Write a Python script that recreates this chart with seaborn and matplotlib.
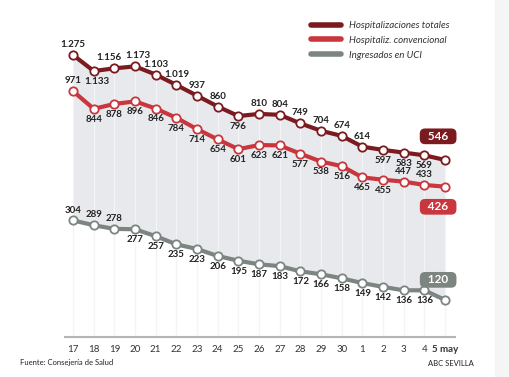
import numpy as np
import pandas as pd
import matplotlib.pyplot as plt
import seaborn as sns
from matplotlib.lines import Line2D
from matplotlib.patches import Rectangle

# --- datos (abril 17 -> 5 mayo) ---
DIAS = ['17', '18', '19', '20', '21', '22', '23', '24', '25', '26', '27', '28', '29', '30',
        '1', '2', '3', '4', '5 may']
TOTALES = [1275, 1133, 1156, 1173, 1103, 1019, 937, 860, 796, 810, 804, 749, 704, 674,
           614, 597, 583, 569, 546]
CONVENCIONAL = [971, 844, 878, 896, 846, 784, 714, 654, 601, 623, 621, 577, 538, 516,
                465, 455, 447, 433, 426]
UCI = [304, 289, 278, 277, 257, 235, 223, 206, 195, 187, 183, 172, 166, 158,
       149, 142, 136, 136, 120]
SERIES = ['Hospitalizaciones totales', 'Hospitaliz. convencional', 'Ingresados en UCI']

# posicion de la etiqueta de cada punto: a = arriba, b = abajo, - = caja final
POS_TOT = 'abaaaaaabaaaaaabbb-'
POS_CONV = 'abbbbbbbbbbbbbbbaa-'
POS_UCI = 'aaabbbbbbbbbbbbbbb-'
# pequenos desplazamientos horizontales (pt) para que no se pisen
DX_TOT = {1: 2, 2: -4, 3: 2}

COLORES = ['#7b1b1f', '#c9363d', '#7c8580']
GRIS_FONDO = '#e8e9ed'

df = pd.DataFrame({'idx': np.arange(len(DIAS)), 'dia': DIAS,
                   SERIES[0]: TOTALES, SERIES[1]: CONVENCIONAL, SERIES[2]: UCI})

sns.set_theme(style='white')
plt.rcParams['font.family'] = ['Lato', 'DejaVu Sans']

fig = plt.figure(figsize=(5.1, 3.77), dpi=100)
fig.patches.append(Rectangle((495 / 510, 0), 15 / 510, 1, transform=fig.transFigure,
                             color='#f5f5f5', zorder=0))
ax = fig.add_axes([65 / 510, 40 / 377, 390 / 510, 317 / 377])
ax.patch.set_alpha(0)

# escala no lineal como la infografia
ax.set_yscale('function', functions=(lambda v: np.power(np.clip(v, 0, None), 0.25),
                                      lambda v: np.power(v, 4)))

ax.fill_between(df['idx'], df[SERIES[2]], df[SERIES[0]], color=GRIS_FONDO, lw=0, zorder=1)
ax.vlines(df['idx'], 60, df[SERIES[0]], color='#f4f4f6', lw=0.9, zorder=1.5)

for serie, col in zip(SERIES, COLORES):
    sns.lineplot(data=df, x='idx', y=serie, ax=ax, color=col, lw=3, marker='o',
                 markersize=6, markerfacecolor='white', markeredgecolor=col,
                 markeredgewidth=1.3, legend=False, zorder=3)

def num(v):
    return f'{v:,}'.replace(',', '.')

for serie, pos, dxs in zip(SERIES, [POS_TOT, POS_CONV, POS_UCI], [DX_TOT, {}, {}]):
    for i, v in enumerate(df[serie]):
        if pos[i] == '-':
            continue
        dy = 7.5 if pos[i] == 'a' else -7.5
        ax.annotate(num(v), (i, v), xytext=(dxs.get(i, 0), dy), textcoords='offset points',
                    ha='center', va='center', fontsize=7, fontweight='bold',
                    color='#222222', zorder=4)

# cajas con el ultimo valor
ultimo = len(DIAS) - 1
for serie, col, dy in zip(SERIES, COLORES, [17, -14.5, 14.5]):
    v = df[serie].iloc[-1]
    ax.annotate(f'  {v}  ', (ultimo, v), xytext=(-5, dy), textcoords='offset points',
                ha='center', va='center', fontsize=8.5, fontweight='bold', color='white',
                bbox=dict(boxstyle='round,pad=0.2,rounding_size=0.45', fc=col, ec='none'),
                zorder=5)

ax.set_xlim(-0.39, 18.48)
ax.set_ylim(71.4, 1633)
ax.set_xticks(df['idx'])
ax.set_xticklabels(DIAS, fontsize=7, color='#333333')
ax.get_xticklabels()[-1].set_fontweight('bold')
ax.tick_params(axis='x', length=0, pad=6)
ax.set_yticks([])
ax.set_xlabel('')
ax.set_ylabel('')
for s in ['top', 'left', 'right']:
    ax.spines[s].set_visible(False)
ax.spines['bottom'].set_color('#b5b5b5')
ax.spines['bottom'].set_linewidth(1.5)

handles = [Line2D([], [], color=c, lw=4, solid_capstyle='round') for c in COLORES]
leg = fig.legend(handles, SERIES, loc='upper left', bbox_to_anchor=(311 / 510, 1 - 21 / 377),
                 frameon=False, prop={'style': 'italic', 'size': 7}, handlelength=3.1,
                 handletextpad=0.8, labelspacing=0.6, borderpad=0, borderaxespad=0)
for t in leg.get_texts():
    t.set_color('#333333')

fig.text(20 / 510, 1 - 362 / 377, 'Fuente: Consejería de Salud', fontsize=5.5,
         color='#222222', va='center')
fig.text(474 / 510, 1 - 364 / 377, 'ABC SEVILLA', fontsize=5.5, color='#222222',
         va='center', ha='right')

fig.savefig('out.png', dpi=100)
